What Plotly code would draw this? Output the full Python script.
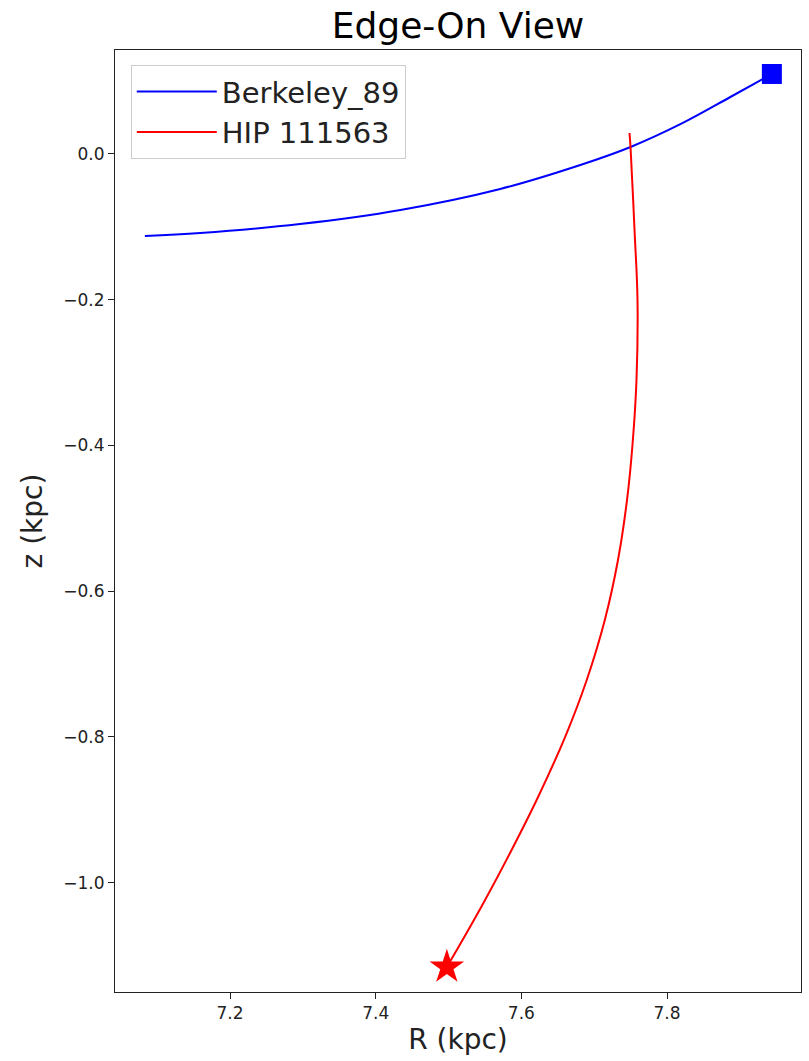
import plotly.graph_objects as go

# Berkeley_89 orbit (edge-on, R vs z)
berk_R = [7.083, 7.159, 7.296, 7.434, 7.571, 7.681, 7.750, 7.819, 7.887, 7.944]
berk_z = [-0.1125, -0.1084, -0.0961, -0.0768, -0.0480, -0.0151, 0.0096, 0.0412, 0.0782, 0.1098]

# HIP 111563 orbit
hip_R = [7.7485, 7.7499, 7.7554, 7.7595, 7.7581, 7.7527, 7.7451, 7.7327, 7.7146,
         7.6898, 7.6606, 7.6210, 7.5866, 7.5502, 7.5232, 7.4977]
hip_z = [0.0288, 0.0096, -0.1043, -0.2004, -0.3101, -0.3980, -0.4748, -0.5572, -0.6395,
         -0.7218, -0.7987, -0.8865, -0.9551, -1.0237, -1.0718, -1.1157]

x_ticks = [7.2, 7.4, 7.6, 7.8]
y_ticks = [0.0, -0.2, -0.4, -0.6, -0.8, -1.0]

FONT = "DejaVu Sans"

fig = go.Figure()
fig.add_trace(go.Scatter(x=berk_R, y=berk_z, mode="lines", name="Berkeley_89",
                         line=dict(color="#0000ff", width=2, shape="spline")))
fig.add_trace(go.Scatter(x=hip_R, y=hip_z, mode="lines", name="HIP 111563",
                         line=dict(color="#ff0000", width=2, shape="spline")))
fig.add_trace(go.Scatter(x=[berk_R[-1]], y=[berk_z[-1]], mode="markers", showlegend=False,
                         marker=dict(symbol="square", size=20, color="#0000ff")))
fig.add_trace(go.Scatter(x=[hip_R[-1]], y=[hip_z[-1]], mode="markers", showlegend=False,
                         marker=dict(symbol="star", size=26, color="#ff0000")))

axis_common = dict(showgrid=False, zeroline=False, showline=True, linecolor="#222",
                   linewidth=1, mirror=True, ticks="outside", ticklen=6, tickcolor="#222",
                   tickfont=dict(family=FONT, size=17, color="#222"))

fig.update_layout(
    width=809, height=1061,
    margin=dict(l=115, r=8, t=50, b=69),
    paper_bgcolor="white", plot_bgcolor="white",
    title=dict(text="Edge-On View", x=0.5, xref="paper", xanchor="center", y=0.976, yanchor="middle",
               font=dict(family=FONT, size=36, color="black")),
    xaxis=dict(range=[7.042, 7.984], tickvals=x_ticks, tickformat=".1f",
               title=dict(text="R (kpc)", font=dict(family=FONT, size=28, color="#222"), standoff=6),
               **axis_common),
    yaxis=dict(range=[-1.150, 0.1427], tickvals=y_ticks, tickformat=".1f",
               title=dict(text="z (kpc)", font=dict(family=FONT, size=28, color="#222"), standoff=12),
               **axis_common),
    legend=dict(x=0.023, y=0.984, xanchor="left", yanchor="top", itemwidth=80,
                bgcolor="rgba(255,255,255,0.8)", bordercolor="#cccccc", borderwidth=1,
                font=dict(family=FONT, size=29, color="#222")),
)

fig.write_html("out.html")
